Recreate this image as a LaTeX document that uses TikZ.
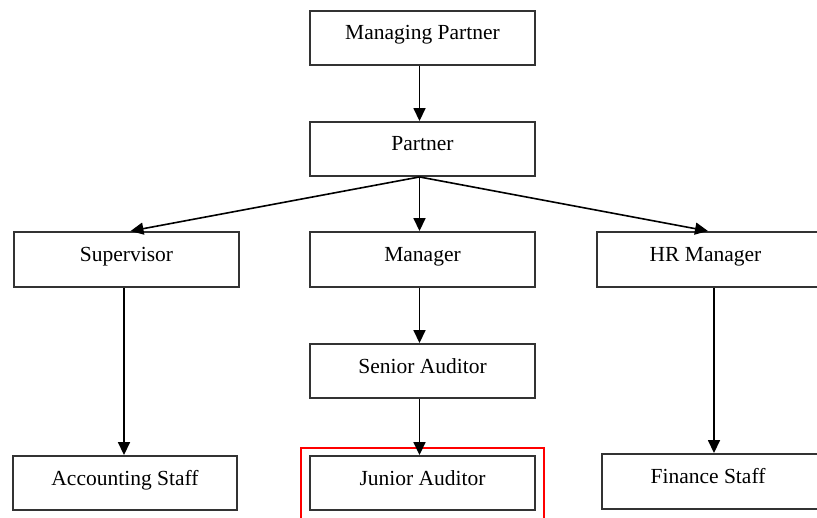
\documentclass[tikz,border=0pt]{standalone}
\usepackage{fontspec}
\setmainfont{Liberation Serif}
\usetikzlibrary{arrows.meta}
\begin{document}
\begin{tikzpicture}[x=1pt,y=1pt,
  box/.style={draw=black!80, line width=1.9pt, rectangle, inner sep=0pt, minimum height=54pt},
  lbl/.style={anchor=base, inner sep=0pt, font=\fontsize{21.5}{25}\selectfont},
  conn/.style={line width=1.6pt, -{Triangle[length=13pt,width=12pt]}},
  hl/.style={draw=red, line width=2.8pt}]
\useasboundingbox (0,0) rectangle (817,-517);
\clip (0,0) rectangle (817,-517);
\fill[white] (0,0) rectangle (817,-517);
% boxes
\node[box, minimum width=225pt] (mp) at (422.5,-38) {};
\node[box, minimum width=225pt] (pt) at (422.5,-149) {};
\node[box, minimum width=225pt, minimum height=55pt] (sup) at (126.5,-259.5) {};
\node[box, minimum width=225pt, minimum height=55pt] (mgr) at (422.5,-259.5) {};
\node[box, minimum width=235pt, minimum height=55pt] (hr) at (714.5,-259.5) {};
\node[box, minimum width=225pt] (sa) at (422.5,-371) {};
\node[box, minimum width=224pt] (acc) at (125,-483) {};
\node[box, minimum width=225pt] (ja) at (422.5,-483) {};
\node[box, minimum width=230pt, minimum height=55pt] (fs) at (717,-481.5) {};
% labels
\node[lbl] (tmp) at ([yshift=-1.5]mp.center) {Managing Partner};
\node[lbl] (tpt) at ([yshift=-1.5]pt.center) {Partner};
\node[lbl] (tsup) at ([yshift=-2]sup.center) {Supervisor};
\node[lbl] (tmgr) at ([yshift=-2]mgr.center) {Manager};
\node[lbl] (thr) at ([xshift=-9,yshift=-2]hr.center) {HR Manager};
\node[lbl] (tsa) at ([yshift=-2]sa.center) {Senior Auditor};
\node[lbl] (tacc) at ([yshift=-2]acc.center) {Accounting Staff};
\node[lbl] (tja) at ([yshift=-2]ja.center) {Junior Auditor};
\node[lbl] (tfs) at ([xshift=-9,yshift=-2]fs.center) {Finance Staff};
% highlight around Junior Auditor
\draw[hl] ([xshift=-8,yshift=7]ja.north west) rectangle ([xshift=8,yshift=-20]ja.south east);
% connectors
\draw[conn] ([xshift=-3]mp.south) -- ([xshift=-3]pt.north);
\coordinate (fan) at ([xshift=-3]pt.south);
\draw[conn] (fan) -- ([xshift=4]sup.north);
\draw[conn] (fan) -- ([xshift=-3]mgr.north);
\draw[conn] (fan) -- ([xshift=-6.5]hr.north);
\draw[conn] ([xshift=-2.5]sup.south) -- ([xshift=-1]acc.north);
\draw[conn] ([xshift=-3]mgr.south) -- ([xshift=-3]sa.north);
\draw[conn] ([xshift=-3]sa.south) -- ([xshift=-3]ja.north);
\draw[conn] ([xshift=-0.5]hr.south) -- ([xshift=-3]fs.north);
\end{tikzpicture}
\end{document}
